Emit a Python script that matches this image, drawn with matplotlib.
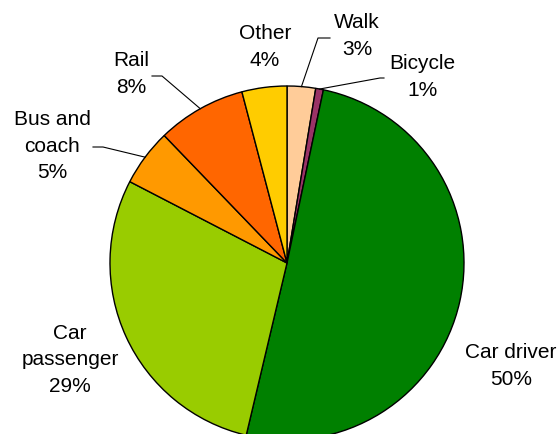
import numpy as np
import matplotlib.pyplot as plt

labels = ['Walk', 'Bicycle', 'Car driver', 'Car\npassenger', 'Bus and\ncoach', 'Rail', 'Other']
values = [2.6, 0.7, 50.4, 28.9, 5.2, 8.1, 4.1]
colors = ['#FFCC99', '#993366', '#008000', '#99CC00', '#FF9900', '#FF6600', '#FFCC00']

W, H = 558, 435
fig = plt.figure(figsize=(W / 100, H / 100), dpi=100)
ax = fig.add_axes([0, 0, 1, 1])

cx, cy, r = 287, H - 264, 177
wedges, _ = ax.pie(values, colors=colors, startangle=90, counterclock=False,
                   center=(cx, cy), radius=r, frame=True,
                   wedgeprops=dict(edgecolor='black', linewidth=1.0))
ax.set_xlim(0, W)
ax.set_ylim(0, H)
ax.set_aspect('equal')
ax.axis('off')

# label centres (pixels from top-left) and leader elbows
text_pos = [(357, 36), (422, 77), (511, 366), (70, 360), (52, 146), (131, 74), (265, 47)]
leaders = {0: [(318, 39), (330, 39)],
           1: [(380, 79), (384, 79)],
           4: [(103, 148), (93, 148)],
           5: [(162, 77), (152, 77)]}

for i, (w, lab, v) in enumerate(zip(wedges, labels, values)):
    tx, ty = text_pos[i]
    ax.text(tx, H - ty, f"{lab}\n{round(v):d}%", ha='center', va='center',
            fontsize=15, linespacing=1.5, family='Liberation Sans')
    if i in leaders:
        mid = np.radians((w.theta1 + w.theta2) / 2)
        px, py = cx + r * np.cos(mid), cy + r * np.sin(mid)
        pts = [(px, py)] + [(x, H - y) for x, y in leaders[i]]
        xs, ys = zip(*pts)
        ax.plot(xs, ys, color='black', linewidth=0.8, clip_on=False)

fig.savefig('out.png', dpi=100)
